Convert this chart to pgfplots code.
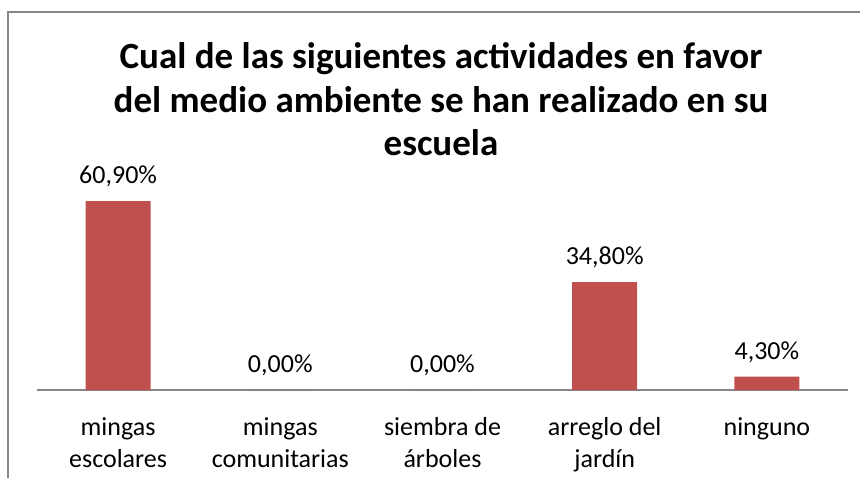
\documentclass[border=0pt]{standalone}
\usepackage{fontspec}
\setmainfont{Carlito}
\usepackage{pgfplots}
\pgfplotsset{compat=1.18}
\definecolor{barred}{RGB}{192,80,77}
\definecolor{framegray}{RGB}{134,134,134}
\begin{document}
\begin{tikzpicture}
\useasboundingbox (0,0) rectangle (860pt,477pt);
\clip (0,0) rectangle (860pt,477pt);
% chart frame (right and bottom edges lie outside the picture)
\draw[framegray, line width=1.5pt] (8pt,-10pt) -- (8pt,465pt) -- (880pt,465pt);
% title
\node[anchor=base, font=\fontsize{37}{43.5}\selectfont\bfseries] at (441pt,408pt) {Cual de las siguientes actividades en favor};
\node[anchor=base, font=\fontsize{37}{43.5}\selectfont\bfseries] at (441pt,364.5pt) {del medio ambiente se han realizado en su};
\node[anchor=base, font=\fontsize{37}{43.5}\selectfont\bfseries] at (441pt,321pt) {escuela};
\begin{axis}[
  at={(37pt,87pt)}, anchor=south west,
  scale only axis, width=811pt, height=217pt,
  xmin=-0.5, xmax=4.5, ymin=0, ymax=70,
  axis x line*=bottom, axis y line=none,
  x axis line style={framegray, line width=1.5pt},
  ytick=\empty,
  xtick={0,1,2,3,4},
  major tick length=0pt,
  xticklabels={{\strut mingas\\escolares},{\strut mingas\\comunitarias},{\strut siembra de\\árboles},{\strut arreglo del\\jardín},{\strut ninguno}},
  xticklabel style={anchor=north, align=center, inner sep=0pt, yshift=-22.5pt, font=\fontsize{26}{32}\selectfont},
  clip=false,
]
\addplot[ybar, bar width=65pt, fill=barred, draw=none,
  point meta=explicit symbolic,
  nodes near coords,
  nodes near coords style={anchor=base, yshift=17.5pt, font=\fontsize{26}{32}\selectfont}]
  coordinates {(0,60.9) [60,90\%] (1,0) [0,00\%] (2,0) [0,00\%] (3,34.8) [34,80\%] (4,4.3) [4,30\%]};
\end{axis}
\end{tikzpicture}
\end{document}
